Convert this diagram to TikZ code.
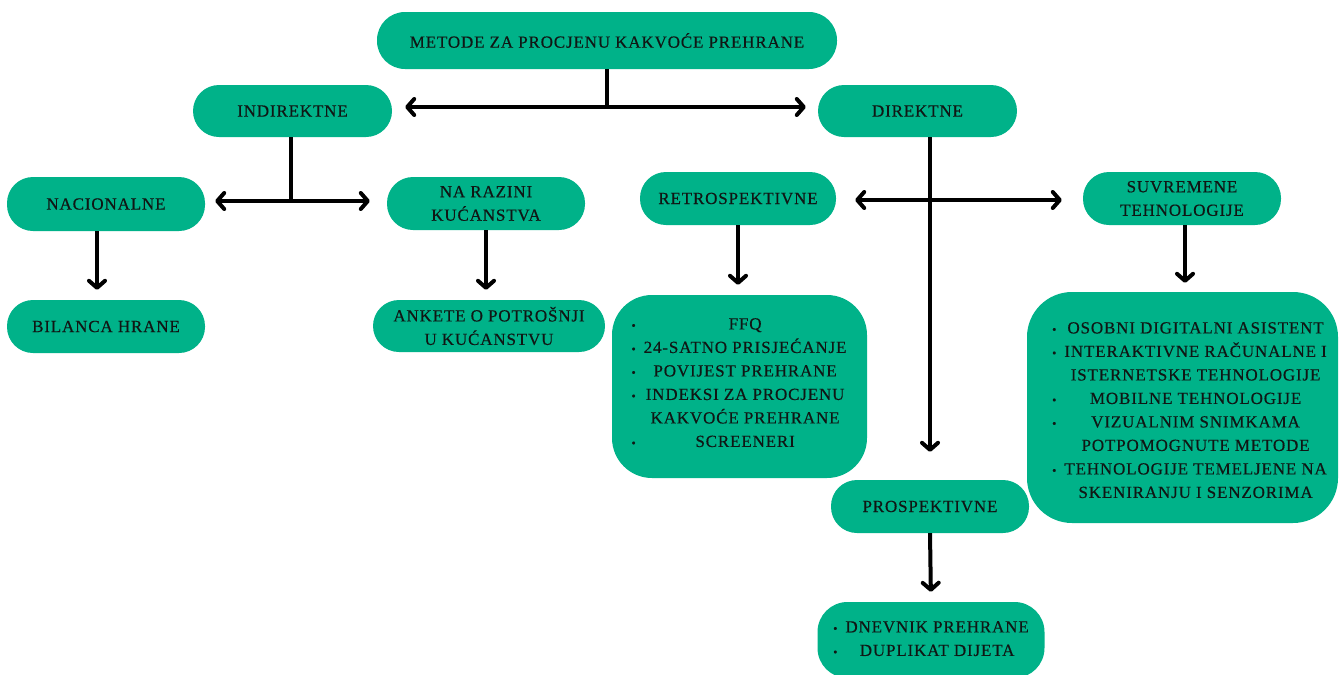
\documentclass[tikz,border=0pt]{standalone}
\usepackage{fontspec}
\setmainfont{Liberation Serif}[LetterSpace=5,FakeBold=0.4]
\usetikzlibrary{arrows.meta}
\definecolor{boxgreen}{RGB}{0,178,137}
\definecolor{txt}{RGB}{16,22,20}
\tikzset{
  pill/.style={fill=boxgreen, draw=none, rounded corners=26pt, minimum width=198pt, minimum height=53pt, inner sep=0pt, align=center, text=txt, font=\fontsize{17}{23.5}\selectfont},
  listbox/.style={fill=boxgreen, draw=none, inner sep=0pt},
  listtext/.style={inner sep=0pt, text=txt, font=\fontsize{17}{23.5}\selectfont},
  ln/.style={line width=4pt, draw=black},
  arr/.style={line width=4pt, draw=black, -{Straight Barb[round,length=7pt,width=16pt]}},
  darr/.style={line width=4pt, draw=black, {Straight Barb[round,length=7pt,width=16pt]}-{Straight Barb[round,length=7pt,width=16pt]}}
}
\newcommand{\bul}{{\fontsize{12}{12}\selectfont\textbullet}}
\begin{document}
\begin{tikzpicture}[x=1pt,y=-1pt]
\useasboundingbox (0,0) rectangle (1342,675);
% nodes
\node[pill, minimum width=460pt, minimum height=57pt, rounded corners=28pt] (top) at (607,40.5) {METODE ZA PROCJENU KAKVOĆE PREHRANE};
\node[pill, minimum width=199pt, minimum height=52pt] (ind) at (292.5,111) {INDIREKTNE};
\node[pill, minimum width=199pt, minimum height=52pt] (dir) at (917.5,111) {DIREKTNE};
\node[pill, minimum height=54pt] (nac) at (106,204) {NACIONALNE};
\node[pill] (nar) at (486,203.5) {NA RAZINI\\KUĆANSTVA};
\node[pill] (bil) at (106,326.5) {BILANCA HRANE};
\node[pill, minimum width=232pt, minimum height=52pt] (ank) at (489,326) {ANKETE O POTROŠNJI\\U KUĆANSTVU};
\node[pill, minimum width=196pt] (ret) at (738,198.5) {RETROSPEKTIVNE};
\node[pill] (suv) at (1182,198.5) {SUVREMENE\\TEHNOLOGIJE};
\node[pill] (pro) at (930,506.5) {PROSPEKTIVNE};
\node[listbox, minimum width=255pt, minimum height=183pt, rounded corners=40pt] (retl) at (739.5,386.5) {};
\node[listbox, minimum width=311pt, minimum height=231pt, rounded corners=45pt] (suvl) at (1182.5,407.5) {};
\node[listbox, minimum width=227pt, minimum height=76pt, rounded corners=30pt] (dnev) at (931,640) {};
% list texts
\node[listtext] (retlt) at (739,383.5) {\begin{tabular}{@{}c@{\hspace{8pt}}c@{}}
\bul & FFQ\\
\bul & 24-SATNO PRISJEĆANJE\\
\bul & POVIJEST PREHRANE\\
\bul & INDEKSI ZA PROCJENU\\
 & KAKVOĆE PREHRANE\\
\bul & SCREENERI
\end{tabular}};
\node[listtext] (suvlt) at (1189.5,411) {\begin{tabular}{@{}c@{\hspace{8pt}}c@{}}
\bul & OSOBNI DIGITALNI ASISTENT\\
\bul & INTERAKTIVNE RAČUNALNE I\\
 & ISTERNETSKE TEHNOLOGIJE\\
\bul & MOBILNE TEHNOLOGIJE\\
\bul & VIZUALNIM SNIMKAMA\\
 & POTPOMOGNUTE METODE\\
\bul & TEHNOLOGIJE TEMELJENE NA\\
 & SKENIRANJU I SENZORIMA
\end{tabular}};
\node[listtext] (dnevt) at (931,639.5) {\begin{tabular}{@{}c@{\hspace{8pt}}c@{}}
\bul & DNEVNIK PREHRANE\\
\bul & DUPLIKAT DIJETA
\end{tabular}};
% junctions
\coordinate (j1) at (607,107);
\coordinate (j2) at (291,201);
\coordinate (j3) at (930,200);
% connectors
\draw[ln] (top.south -| j1) -- (j1);
\draw[darr, shorten <=13pt, shorten >=12pt] (j1 -| ind.east) -- (j1 -| dir.west);
\draw[ln] (ind.south -| j2) -- (j2);
\draw[darr, shorten <=10pt, shorten >=17pt] (j2 -| nac.east) -- (j2 -| nar.west);
\draw[arr, shorten >=10pt] ([xshift=-9pt]nac.south) -- ([xshift=-9pt]bil.north);
\draw[arr, shorten >=10pt] (nar.south) -- (nar.south |- ank.north);
\draw[arr, shorten >=28pt] (dir.south -| pro.north) -- (pro.north);
\draw[darr, shorten <=19pt, shorten >=21pt] (j3 -| ret.east) -- (j3 -| suv.west);
\draw[arr, shorten >=10pt] (ret.south) -- (ret.south |- retl.north);
\draw[arr, shorten >=9pt] ([xshift=3pt]suv.south) -- ([xshift=3pt]suv.south |- suvl.north);
\draw[arr, shorten >=10pt] (pro.south) -- (dnev.north);
\end{tikzpicture}
\end{document}
